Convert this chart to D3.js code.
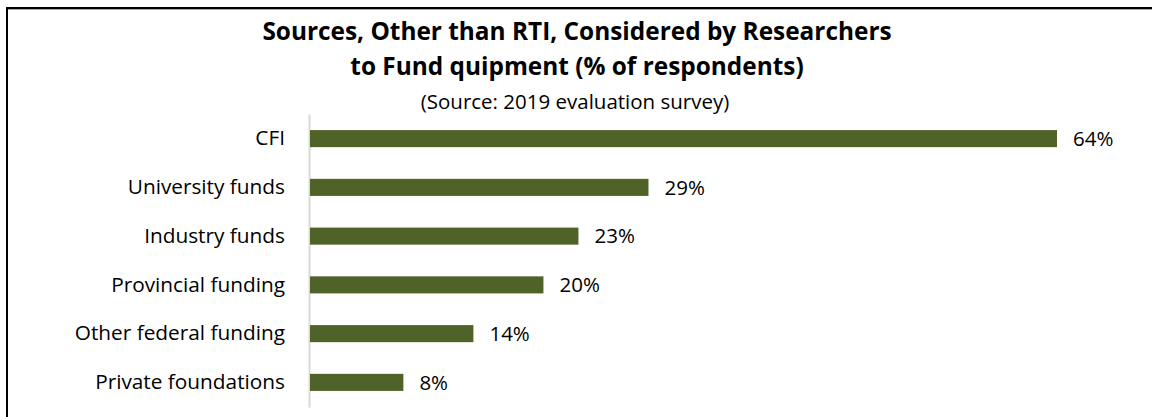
<!DOCTYPE html>
<html>
<head>
<meta charset="utf-8">
<script src="https://cdn.jsdelivr.net/npm/d3@7"></script>
<style>
  body { margin: 0; background: #fff; }
  svg text { font-family: "Open Sans", sans-serif; fill: #000; }
</style>
</head>
<body>
<svg id="chart" width="1152" height="417"></svg>
<script>
var categories = ['CFI', 'University funds', 'Industry funds', 'Provincial funding', 'Other federal funding', 'Private foundations'];
var values = [64, 29, 23, 20, 14, 8];
var titleLines = ['Sources, Other than RTI, Considered by Researchers', 'to Fund quipment (% of respondents)'];
var subtitle = '(Source: 2019 evaluation survey)';

var svg = d3.select('#chart');

// frame (top + left edges only, the rest is cropped off)
svg.append('line').attr('x1', 7).attr('x2', 1152).attr('y1', 9.5).attr('y2', 9.5)
    .attr('stroke', '#aaa').attr('stroke-width', 1);
svg.append('line').attr('x1', 6).attr('x2', 1152).attr('y1', 8).attr('y2', 8)
    .attr('stroke', '#000').attr('stroke-width', 2);
svg.append('line').attr('x1', 7).attr('x2', 7).attr('y1', 7).attr('y2', 417)
    .attr('stroke', '#000').attr('stroke-width', 2);

svg.selectAll('text.title').data(titleLines).enter().append('text')
    .attr('class', 'title')
    .attr('x', 577)
    .attr('y', function (d, i) { return 40 + i * 35; })
    .attr('text-anchor', 'middle')
    .style('font-weight', 'bold')
    .style('font-size', '24.4px')
    .text(function (d) { return d; });

svg.append('text')
    .attr('x', 575).attr('y', 109)
    .attr('text-anchor', 'middle')
    .style('font-size', '20.5px')
    .text(subtitle);

var x = d3.scaleLinear().domain([0, 64]).range([310, 1057]);
var y = d3.scaleBand().domain(categories).range([114, 407]).paddingInner(0.65).paddingOuter(0.33);

// category axis
var yAxis = svg.append('g')
    .attr('transform', 'translate(309,0)')
    .call(d3.axisLeft(y).tickSize(0).tickPadding(24));
yAxis.select('.domain').attr('stroke', '#d9d9d9').attr('stroke-width', 2);
yAxis.selectAll('text')
    .style('font-family', '"Open Sans", sans-serif')
    .style('font-size', '20.8px')
    .attr('fill', '#000');

svg.selectAll('rect.bar').data(values).enter().append('rect')
    .attr('class', 'bar')
    .attr('x', x(0))
    .attr('y', function (d, i) { return y(categories[i]); })
    .attr('width', function (d) { return x(d) - x(0); })
    .attr('height', y.bandwidth())
    .attr('fill', '#4f6228');

svg.selectAll('text.val').data(values).enter().append('text')
    .attr('class', 'val')
    .attr('x', function (d) { return x(d) + 16; })
    .attr('y', function (d, i) { return y(categories[i]) + y.bandwidth() / 2; })
    .attr('dy', '0.35em')
    .style('font-size', '20.5px')
    .text(function (d) { return d + '%'; });
</script>
</body>
</html>
